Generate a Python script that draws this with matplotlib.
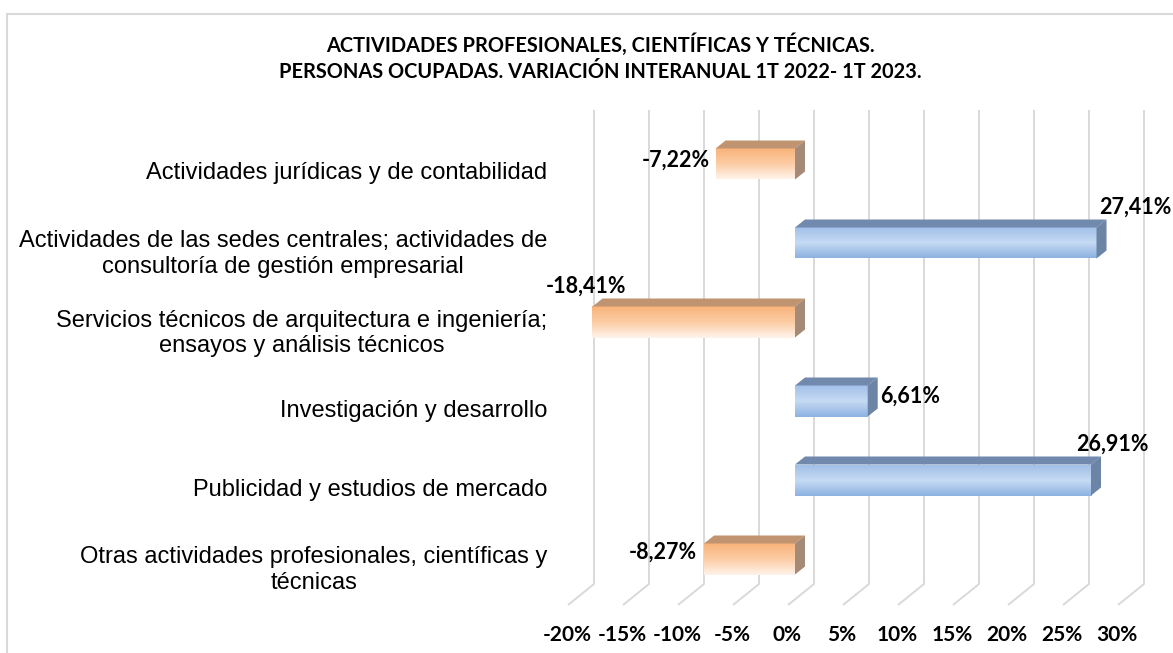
import matplotlib.pyplot as plt
import numpy as np
from matplotlib.colors import LinearSegmentedColormap
from matplotlib.patches import Polygon, Rectangle
from matplotlib.transforms import ScaledTranslation

categories = [
    "Actividades jurídicas y de contabilidad",
    "Actividades de las sedes centrales; actividades de\nconsultoría de gestión empresarial",
    "Servicios técnicos de arquitectura e ingeniería;\nensayos y análisis técnicos",
    "Investigación y desarrollo",
    "Publicidad y estudios de mercado",
    "Otras actividades profesionales, científicas y\ntécnicas",
]
values = [-7.22, 27.41, -18.41, 6.61, 26.91, -8.27]
xticks = np.arange(-20, 31, 5)
title = ("ACTIVIDADES PROFESIONALES, CIENTÍFICAS Y TÉCNICAS.\n"
         "PERSONAS OCUPADAS. VARIACIÓN INTERANUAL 1T 2022- 1T 2023.")

# label offsets in pixels from the bar end (dx, dy down, ha)
label_offsets = [(-6, -4, "right"), (3, -36, "left"), (-6, -36, "center"),
                 (12, -5, "left"), (21, -36, "center"), (-7, -7, "right")]

W, H, DPI = 1173, 653, 100
PXX, PXY = 11.0, 79.0          # pixels per percent / per category
BAR_H = 31 / PXY
DEPTH = (10, -8)               # 3d depth of the bars, pixels

bold = ["Lato", "DejaVu Sans"]
grid_c = "#D9D9D9"

orange_front = LinearSegmentedColormap.from_list("o", ["#F9B37A", "#FCCCA4", "#FFF3EA"])
blue_front = LinearSegmentedColormap.from_list("b", ["#A2C0E9", "#C6DAF3", "#8DB2E2"])
styles = {
    "neg": (orange_front, "#C19471", "#A58A77"),
    "pos": (blue_front, "#7089AC", "#6C84A5"),
}

fig = plt.figure(figsize=(W / DPI, H / DPI), dpi=DPI)
fig.patch.set_facecolor("white")

# chart border
fig.add_artist(Rectangle((7 / W, -0.1), 1.2, 1.1 - 14 / H, transform=fig.transFigure,
                         fill=False, ec=grid_c, lw=1.5))

ax = fig.add_axes([547.5 / W, 1 - 620 / H, 594 / W, 520 / H])
xmin, xmax = 0 - 247.5 / PXX, 0 + 346.5 / PXX
ymin, ymax = (100 - 164) / PXY, (620 - 164) / PXY


def px(dxp, dyp):
    return dxp / PXX, dyp / PXY


# back wall gridlines + floor
wall_dx, _ = px(19, 0)
front_dx, _ = px(-7, 0)
c_top = (110 - 164) / PXY
c_wall = (584 - 164) / PXY
c_floor = (605 - 164) / PXY
for t in xticks:
    ax.plot([t + wall_dx, t + wall_dx, t + front_dx], [c_top, c_wall, c_floor],
            color=grid_c, lw=1.4, zorder=0, clip_on=False, solid_capstyle="butt")

ddx, ddy = px(*DEPTH)
grad = np.linspace(0, 1, 64).reshape(-1, 1)
for i, v in enumerate(values):
    cmap, top_c, side_c = styles["neg" if v < 0 else "pos"]
    xa, xb = min(0, v), max(0, v)
    ya, yb = i - BAR_H / 2, i + BAR_H / 2
    ax.imshow(grad, extent=(xa, xb, yb, ya), cmap=cmap, aspect="auto",
              interpolation="bilinear", zorder=3)
    ax.add_patch(Polygon([(xa, ya), (xb, ya), (xb + ddx, ya + ddy), (xa + ddx, ya + ddy)],
                         closed=True, fc=top_c, ec="none", zorder=3))
    ax.add_patch(Polygon([(xb, ya), (xb + ddx, ya + ddy), (xb + ddx, yb + ddy), (xb, yb)],
                         closed=True, fc=side_c, ec="none", zorder=3))
    ox, oy, ha = label_offsets[i]
    end = xa if v < 0 else xb
    ax.annotate(f"{v:.2f}%".replace(".", ","), xy=(end, i), xytext=(ox, -oy),
                textcoords="offset pixels", ha=ha, va="center", fontsize=15.5,
                fontweight="bold", family=bold, annotation_clip=False, zorder=5)

ax.set_xlim(xmin, xmax)
ax.set_ylim(ymax, ymin)
for s in ax.spines.values():
    s.set_visible(False)
ax.set_facecolor("none")

ax.set_yticks(np.arange(len(categories)), labels=categories)
ax.tick_params(axis="y", length=0, pad=0, labelsize=17)
for lbl in ax.get_yticklabels():
    lbl.set_family(["Liberation Sans", "DejaVu Sans"])
    lbl.set_multialignment("center")
    lbl.set_transform(lbl.get_transform() + ScaledTranslation(0, -7 / DPI, fig.dpi_scale_trans))

ax.set_xticks(xticks, labels=[f"{t}%" for t in xticks])
ax.tick_params(axis="x", length=0, pad=3.5, labelsize=15)
for lbl in ax.get_xticklabels():
    lbl.set_family(bold)
    lbl.set_fontweight("bold")
    lbl.set_transform(lbl.get_transform() + ScaledTranslation(-8 / DPI, 0, fig.dpi_scale_trans))

fig.text(600 / W, 1 - 57.5 / H, title, ha="center", va="center", fontsize=14.4,
         fontweight="bold", family=bold, linespacing=1.4)

fig.savefig("out.png", dpi=DPI, facecolor="white")
